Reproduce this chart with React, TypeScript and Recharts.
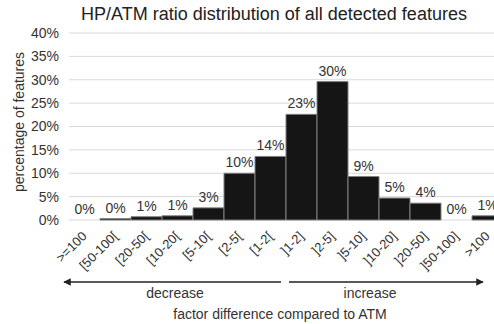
import { ComposedChart, Bar, Line, XAxis, YAxis, CartesianGrid, LabelList } from 'recharts';

const categories = [
  '>=100', '[50-100[', '[20-50[', '[10-20[', '[5-10[', '[2-5[', '[1-2[',
  ']1-2]', ']2-5]', ']5-10]', ']10-20]', ']20-50]', ']50-100]', '>100',
];
const shares = [0, 0.3, 0.7, 0.9, 2.6, 10.0, 13.6, 22.6, 29.6, 9.3, 4.7, 3.6, 0, 0.9];
const yTicks = [0, 5, 10, 15, 20, 25, 30, 35, 40];

const data = categories.map((name, i) => ({ name, value: shares[i] }));

const FONT = '"Liberation Sans", Arial, sans-serif';
const TEXT = '#333';

function AngledTick({ x, y, payload }: any) {
  return (
    <text
      x={x + 3}
      y={y + 9}
      transform={`rotate(-45, ${x + 3}, ${y + 9})`}
      textAnchor="end"
      fontSize={13}
      fontFamily={FONT}
      fill={TEXT}
    >
      {payload.value}
    </text>
  );
}

export default function App() {
  return (
    <div style={{ position: 'absolute', left: 0, top: 0, width: 494, height: 324, overflow: 'hidden', background: '#fff' }}>
      <ComposedChart
        width={503}
        height={324}
        data={data}
        barCategoryGap={0}
        margin={{ top: 33, right: 0, left: 0, bottom: 0 }}
      >
        <CartesianGrid vertical={false} stroke="#d9d9d9" />
        <XAxis
          dataKey="name"
          axisLine={false}
          tickLine={false}
          interval={0}
          tick={<AngledTick />}
          height={104}
        />
        <YAxis
          width={69}
          domain={[0, 40]}
          ticks={yTicks}
          axisLine={false}
          tickLine={false}
          tickMargin={4}
          tickFormatter={(v) => `${v}%`}
          tick={{ fontSize: 14, fill: TEXT, fontFamily: FONT }}
        />
        <Bar dataKey="value" fill="#151515" stroke="#808080" strokeWidth={1} isAnimationActive={false} />
        <Line dataKey="value" stroke="none" dot={false} activeDot={false} isAnimationActive={false}>
          <LabelList
            dataKey="value"
            position="top"
            offset={6}
            formatter={(v: any) => `${Math.round(Number(v))}%`}
            style={{ fontSize: 14, fill: TEXT, fontFamily: FONT }}
          />
        </Line>
      </ComposedChart>
      <svg width={494} height={324} style={{ position: 'absolute', left: 0, top: 0, pointerEvents: 'none' }}>
        <defs>
          <marker id="head" viewBox="0 0 10 10" refX="9" refY="5" markerWidth="5" markerHeight="5" orient="auto-start-reverse">
            <path d="M0,0 L10,5 L0,10 z" fill="#222" />
          </marker>
        </defs>
        <text x={274} y={20} textAnchor="middle" fontSize={18} fontFamily={FONT} fill="#222">
          HP/ATM ratio distribution of all detected features
        </text>
        <text
          x={24}
          y={122}
          transform="rotate(-90, 24, 122)"
          textAnchor="middle"
          fontSize={14}
          fontFamily={FONT}
          fill={TEXT}
        >
          percentage of features
        </text>
        <line x1={281} y1={282} x2={64} y2={282} stroke="#222" strokeWidth={1.5} markerEnd="url(#head)" />
        <line x1={289} y1={282} x2={483} y2={282} stroke="#222" strokeWidth={1.5} markerEnd="url(#head)" />
        <text x={175} y={298} textAnchor="middle" fontSize={14} fontFamily={FONT} fill={TEXT}>decrease</text>
        <text x={370} y={298} textAnchor="middle" fontSize={14} fontFamily={FONT} fill={TEXT}>increase</text>
        <text x={280} y={319} textAnchor="middle" fontSize={14} fontFamily={FONT} fill={TEXT}>
          factor difference compared to ATM
        </text>
      </svg>
    </div>
  );
}
